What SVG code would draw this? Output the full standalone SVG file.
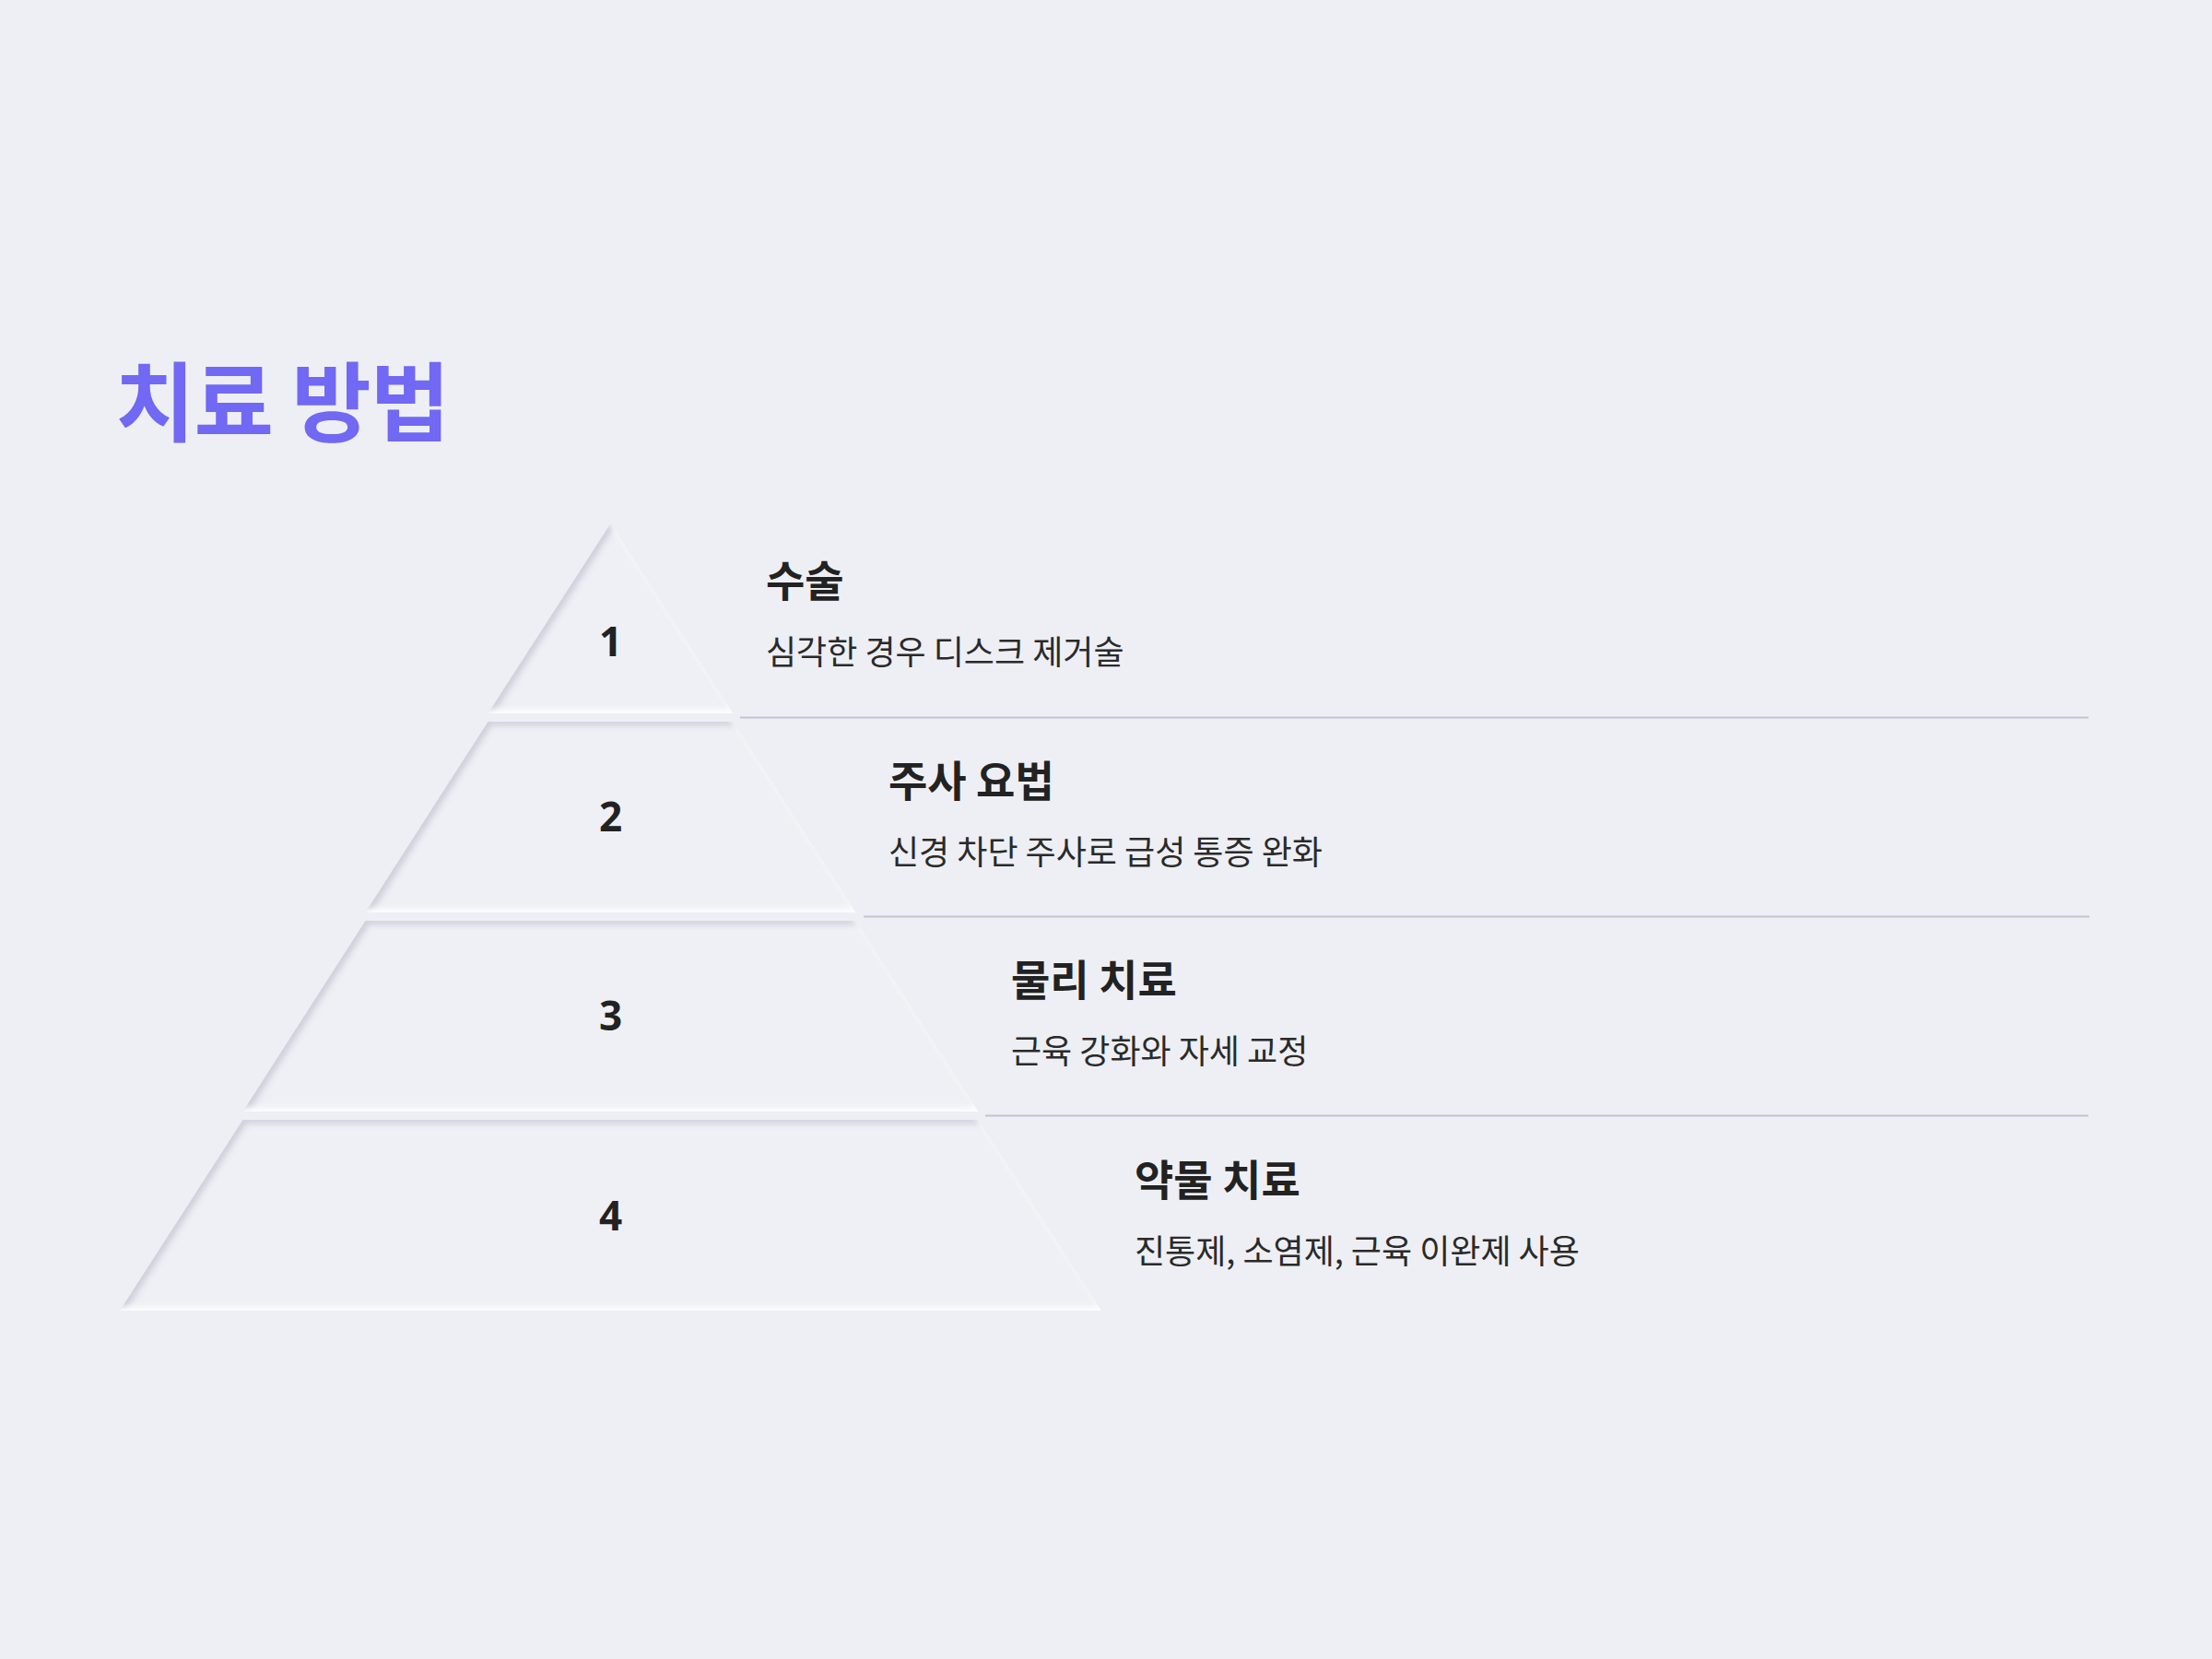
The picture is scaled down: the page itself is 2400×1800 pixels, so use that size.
<svg xmlns="http://www.w3.org/2000/svg" width="2400" height="1800" viewBox="0 0 2400 1800">
  <defs>
    <filter id="inset" x="-10%" y="-10%" width="120%" height="120%" color-interpolation-filters="sRGB">
      <feComponentTransfer in="SourceAlpha" result="inv">
        <feFuncA type="table" tableValues="1 0"/>
      </feComponentTransfer>
      <feOffset in="inv" dx="4" dy="4" result="invD"/>
      <feGaussianBlur in="invD" stdDeviation="3" result="blurD"/>
      <feFlood flood-color="#c8cad6" flood-opacity="0.85"/>
      <feComposite in2="blurD" operator="in"/>
      <feComposite in2="SourceAlpha" operator="in" result="dark"/>
      <feOffset in="inv" dx="-4" dy="-4" result="invL"/>
      <feGaussianBlur in="invL" stdDeviation="3" result="blurL"/>
      <feFlood flood-color="#ffffff" flood-opacity="0.95"/>
      <feComposite in2="blurL" operator="in"/>
      <feComposite in2="SourceAlpha" operator="in" result="light"/>
      <feMerge>
        <feMergeNode in="SourceGraphic"/>
        <feMergeNode in="dark"/>
        <feMergeNode in="light"/>
      </feMerge>
    </filter>
    <style>
      .tier { fill: #eff0f5; filter: url(#inset); }
      .num { font-family: "Noto Sans", "Noto Sans CJK KR", sans-serif; font-weight: 700; font-size: 44px; fill: #222222; text-anchor: middle; }
      .ttl { font-family: "Noto Sans CJK KR", "Noto Sans", sans-serif; font-weight: 700; font-size: 46px; fill: #222222; }
      .dsc { font-family: "Noto Sans CJK KR", "Noto Sans", sans-serif; font-weight: 400; font-size: 36px; fill: #2a2a2a; }
      .sep { stroke: #c2c3d2; stroke-width: 2; fill: none; }
      .title { font-family: "Noto Sans CJK KR", "Noto Sans", sans-serif; font-weight: 700; font-size: 94px; fill: #7168f3; letter-spacing: -1px; }
    </style>
  </defs>

  <rect x="0" y="0" width="2400" height="1800" fill="#eeeff4"/>

  <text class="title" x="125" y="472">치료 방법</text>

  <g id="tier1">
    <polygon class="tier" points="662.5,568 795.5,774 529.5,774"/>
    <text class="num" x="662.5" y="712">1</text>
    <text class="ttl" x="831" y="647">수술</text>
    <text class="dsc" x="831" y="721">심각한 경우 디스크 제거술</text>
  </g>

  <g id="tier2">
    <polygon class="tier" points="529.5,783 795.5,783 928.5,990 396.5,990"/>
    <text class="num" x="662.5" y="902">2</text>
    <text class="ttl" x="964" y="863.5">주사 요법</text>
    <text class="dsc" x="964" y="937.5">신경 차단 주사로 급성 통증 완화</text>
  </g>

  <g id="tier3">
    <polygon class="tier" points="396.5,999 928.5,999 1061.5,1206 263.5,1206"/>
    <text class="num" x="662.5" y="1118">3</text>
    <text class="ttl" x="1097" y="1080">물리 치료</text>
    <text class="dsc" x="1097" y="1154">근육 강화와 자세 교정</text>
  </g>

  <g id="tier4">
    <polygon class="tier" points="263.5,1215 1061.5,1215 1195,1422 130,1422"/>
    <text class="num" x="662.5" y="1335">4</text>
    <text class="ttl" x="1231" y="1296.5">약물 치료</text>
    <text class="dsc" x="1231" y="1370.5">진통제, 소염제, 근육 이완제 사용</text>
  </g>

  <g id="connectors">
    <line class="sep" x1="803" y1="778.5" x2="2266" y2="778.5"/>
    <line class="sep" x1="937" y1="994.5" x2="2267" y2="994.5"/>
    <line class="sep" x1="1069" y1="1210.5" x2="2266" y2="1210.5"/>
  </g>
</svg>
